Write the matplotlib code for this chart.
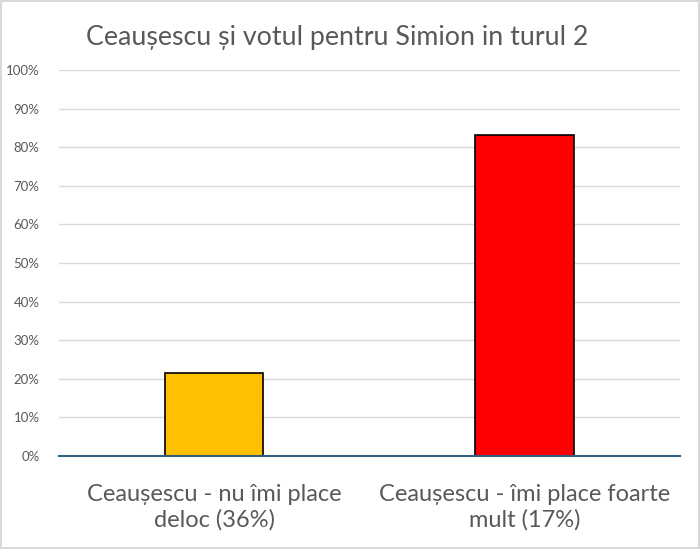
import matplotlib.pyplot as plt
from matplotlib.ticker import PercentFormatter
from matplotlib.patches import Rectangle

# ==================== Data ====================== #

categories = ["Ceaușescu - nu îmi place\ndeloc (36%)",
              "Ceaușescu - îmi place foarte\nmult (17%)"]
values = [21.6, 83.1]
colors = ["#FFC000", "#FF0000"]
title = "Ceaușescu și votul pentru Simion in turul 2"

# ==================== Plot ====================== #

plt.rcParams['font.family'] = ['Lato', 'DejaVu Sans']
txt = "#595959"

fig = plt.figure(figsize=(7, 5.49), dpi=100)
ax = fig.add_axes([0.0843, 0.1694, 0.8867, 0.7031])

x = [0, 1]
ax.bar(x, values, width=0.316, color=colors, edgecolor="black",
       linewidth=1.2, zorder=3)

ax.set_xlim(-0.5, 1.5)
ax.set_ylim(0, 100)
ax.set_yticks(range(0, 101, 10))
ax.yaxis.set_major_formatter(PercentFormatter(decimals=0))
ax.grid(axis='y', color="#D9D9D9", linewidth=1, zorder=0)

ax.set_xticks(x)
ax.set_xticklabels(categories, fontsize=17, color=txt, linespacing=1.25)
ax.tick_params(axis='x', length=0, pad=20)
ax.tick_params(axis='y', length=0, labelsize=9.5, labelcolor=txt, pad=14)

for s in ["top", "right", "left"]:
    ax.spines[s].set_visible(False)
ax.spines["bottom"].set_color("#2F5F7A")
ax.spines["bottom"].set_linewidth(1.5)
ax.spines["bottom"].set_zorder(4)

fig.text(0.482, 0.931, title, ha="center", va="center", fontsize=19.3,
         color=txt)

fig.patches.append(Rectangle((0.002, 0.002), 0.996, 0.996,
                             transform=fig.transFigure, fill=False,
                             edgecolor="#D9D9D9", linewidth=1.5))

fig.savefig("out.png", dpi=100)
